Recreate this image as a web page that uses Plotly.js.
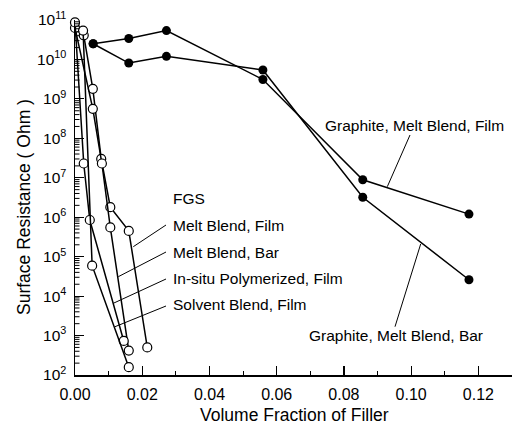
<!DOCTYPE html>
<html><head><meta charset="utf-8">
<script src="https://cdn.plot.ly/plotly-3.0.1.min.js"></script>
<style>html,body{margin:0;padding:0;background:#fff}</style>
</head><body>
<div id="chart" style="width:513px;height:428px"></div>
<script>
// ---- data ----
const graphiteX      = [0.0054, 0.0160, 0.0272, 0.0559, 0.0856, 0.1172];
const graphiteFilmY  = [2.5e10, 3.4e10, 5.4e10, 3.1e9, 8.9e6, 1.2e6];
const graphiteBarY   = [2.5e10, 8.1e9, 1.2e10, 5.4e9, 3.2e6, 2.6e4];

const fgsMeltFilmX = [0.0026, 0.0053, 0.0078, 0.0105, 0.0160, 0.0215];
const fgsMeltFilmY = [4.1e10, 1.8e9, 3.0e7, 1.8e6, 4.5e5, 500];
const fgsMeltBarX  = [0.0000, 0.0053, 0.0080, 0.0105, 0.0160];
const fgsMeltBarY  = [6.3e10, 5.6e8, 2.3e7, 5.5e5, 415];
const fgsInsituX   = [0.0000, 0.0026, 0.0044, 0.0145];
const fgsInsituY   = [8.7e10, 2.3e7, 8.5e5, 730];
const fgsSolventX  = [0.0024, 0.0051, 0.0160];
const fgsSolventY  = [5.4e10, 5.9e4, 158];

const xTickVals = [0, 0.02, 0.04, 0.06, 0.08, 0.10, 0.12];
const xTickText = ['0.00','0.02','0.04','0.06','0.08','0.10','0.12'];
const yTickVals = [1e2,1e3,1e4,1e5,1e6,1e7,1e8,1e9,1e10,1e11];
const yTickText = ['10<sup>2</sup>','10<sup>3</sup>','10<sup>4</sup>','10<sup>5</sup>','10<sup>6</sup>',
                   '10<sup>7</sup>','10<sup>8</sup>','10<sup>9</sup>','10<sup>10</sup>','10<sup>11</sup>'];

const xTitle = 'Volume Fraction of Filler';
const yTitle = 'Surface Resistance ( Ohm )';
const fgsHeader = 'FGS';
const fgsLabels = ['Melt Blend, Film','Melt Blend, Bar','In-situ Polymerized, Film','Solvent Blend, Film'];
const graphiteLabels = ['Graphite, Melt Blend, Film','Graphite, Melt Blend, Bar'];

const Y_RANGE = [2, 11];
const X_RANGE = [0, 0.13];

// ---- layout geometry ----
const W = 513, H = 428;
const M = {l: 75, r: 1, t: 20, b: 53};
const PW = W - M.l - M.r, PH = H - M.t - M.b;
const px = x => (x - M.l) / PW;
const py = y => (H - M.b - y) / PH;

const FONT = '"Liberation Sans", Arial, Helvetica, sans-serif';

function openTrace(x, y) {
  return {x, y, type: 'scatter', mode: 'lines+markers', cliponaxis: false,
    line: {color: '#000', width: 1.5},
    marker: {symbol: 'circle', size: 9, color: '#fff', line: {color: '#000', width: 1.2}}};
}
function filledTrace(x, y) {
  return {x, y, type: 'scatter', mode: 'lines+markers', cliponaxis: false,
    line: {color: '#000', width: 1.5},
    marker: {symbol: 'circle', size: 9, color: '#000', line: {color: '#000', width: 0}}};
}

const data = [
  filledTrace(graphiteX, graphiteFilmY),
  filledTrace(graphiteX, graphiteBarY),
  openTrace(fgsMeltFilmX, fgsMeltFilmY),
  openTrace(fgsMeltBarX, fgsMeltBarY),
  openTrace(fgsInsituX, fgsInsituY),
  openTrace(fgsSolventX, fgsSolventY)
];

const txtFont = {family: FONT, size: 15.5, color: '#000'};
function label(text, x, y, anchor) {
  return {text, xref: 'paper', yref: 'paper', x: px(x), y: py(y), xanchor: anchor || 'left',
    yanchor: 'middle', showarrow: false, font: txtFont};
}
function pointer(x0, y0, x1, y1) {
  return {type: 'line', xref: 'paper', yref: 'paper', x0: px(x0), y0: py(y0), x1: px(x1), y1: py(y1),
    line: {color: '#000', width: 1}};
}

const annotations = [
  label(fgsHeader, 171, 198),
  label(fgsLabels[0], 171, 225),
  label(fgsLabels[1], 171, 252),
  label(fgsLabels[2], 171, 278.5),
  label(fgsLabels[3], 171, 304.5),
  label(graphiteLabels[0], 323, 125),
  label(graphiteLabels[1], 307, 335),
  {text: yTitle, xref: 'paper', yref: 'paper', x: px(23.5), y: py(207.5), xanchor: 'center', yanchor: 'middle',
   textangle: -90, showarrow: false, font: {family: FONT, size: 17.5, color: '#000'}},
  {text: xTitle, xref: 'paper', yref: 'paper', x: px(294), y: py(415), xanchor: 'center', yanchor: 'middle',
   showarrow: false, font: {family: FONT, size: 17.5, color: '#000'}}
];

const shapes = [
  pointer(166, 225, 133.3, 246.7),
  pointer(166, 252, 118.3, 276.7),
  pointer(166, 279, 113.3, 303.3),
  pointer(166, 306, 115, 326.7),
  pointer(410, 135, 387.3, 186.7),
  pointer(395, 326.7, 420.7, 244)
];

// minor log ticks on the y axis (2..9 within each decade), inside the plot
for (let d = Y_RANGE[0]; d < Y_RANGE[1]; d++) {
  for (let m = 2; m <= 9; m++) {
    const f = (d + Math.log10(m) - Y_RANGE[0]) / (Y_RANGE[1] - Y_RANGE[0]);
    shapes.push({type: 'line', xref: 'paper', yref: 'paper', x0: 0, x1: 4.5 / PW, y0: f, y1: f,
      line: {color: '#000', width: 1}});
  }
}

const layout = {
  width: W, height: H, autosize: false,
  margin: M, paper_bgcolor: '#fff', plot_bgcolor: '#fff',
  showlegend: false,
  font: {family: FONT, color: '#000'},
  xaxis: {
    range: X_RANGE, showgrid: false, zeroline: false,
    showline: true, linecolor: '#000', linewidth: 1.5,
    ticks: 'inside', ticklen: 9, tickwidth: 1.2, tickcolor: '#000',
    tickmode: 'array', tickvals: xTickVals, ticktext: xTickText,
    ticklabelstandoff: 4,
    tickfont: {family: FONT, size: 16, color: '#000'},
    minor: {ticks: 'inside', ticklen: 4, tickwidth: 1, tickcolor: '#000', dtick: 0.01, tick0: 0, showgrid: false}
  },
  yaxis: {
    type: 'log', range: Y_RANGE, showgrid: false, zeroline: false,
    showline: true, linecolor: '#000', linewidth: 1.5,
    ticks: 'inside', ticklen: 9, tickwidth: 1.2, tickcolor: '#000',
    tickmode: 'array', tickvals: yTickVals, ticktext: yTickText,
    ticklabelstandoff: 4,
    tickfont: {family: FONT, size: 15.5, color: '#000'}
  },
  annotations, shapes
};

Plotly.newPlot('chart', data, layout, {staticPlot: true, displayModeBar: false});
</script>
</body></html>
